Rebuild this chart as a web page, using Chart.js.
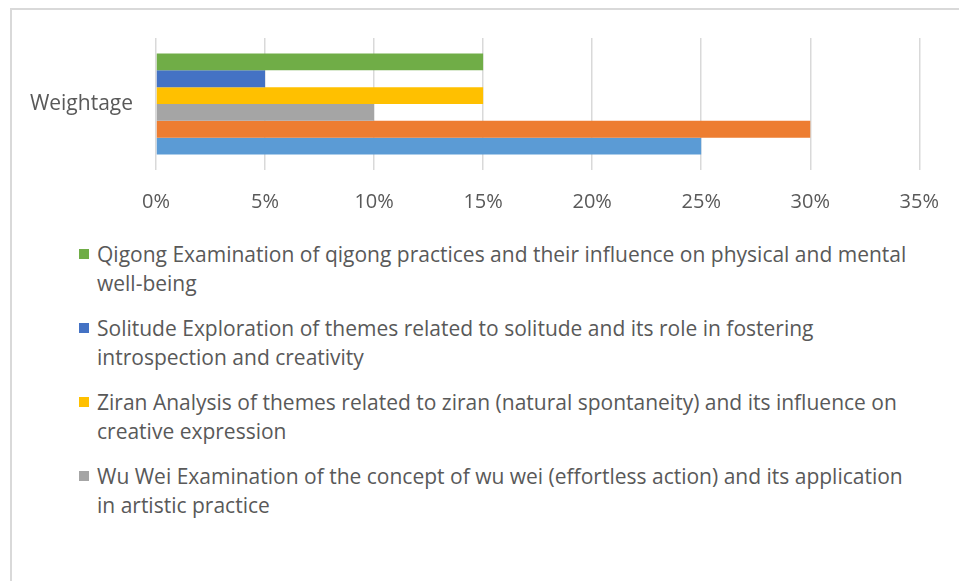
<!DOCTYPE html>
<html>
<head>
<meta charset="utf-8">
<script src="https://cdn.jsdelivr.net/npm/chart.js@4.4.1/dist/chart.umd.min.js"></script>
<style>
  body { margin: 0; background: #fff; font-family: "Open Sans", sans-serif; }
  #frame { position: absolute; left: 10px; top: 8px; width: 949px; height: 573px;
           border-left: 2px solid #d9d9d9; border-top: 2px solid #d9d9d9; }
  #weightChart { position: absolute; left: 0; top: 0; }
  #legend { position: absolute; left: 79px; top: 240px; width: 836px; color: #595959; font-size: 21px; }
  .item { display: flex; align-items: flex-start; margin-bottom: 16px; }
  .box { width: 10px; height: 10px; margin-top: 9px; margin-right: 8px; flex: none; }
  .text { line-height: 29px; }
</style>
</head>
<body>
<div id="frame"></div>
<canvas id="weightChart" width="959" height="230"></canvas>
<div id="legend"></div>
<script>
const categories = ['Weightage'];
// top bar first; the last two series are not named in the visible legend
const seriesNames = [
    'Qigong Examination of qigong practices and their influence on physical and mental well-being',
    'Solitude Exploration of themes related to solitude and its role in fostering introspection and creativity',
    'Ziran Analysis of themes related to ziran (natural spontaneity) and its influence on creative expression',
    'Wu Wei Examination of the concept of wu wei (effortless action) and its application in artistic practice',
    'Series 2',
    'Series 1'
];
const seriesValues = [15, 5, 15, 10, 30, 25];
const seriesColors = ['#70ad47', '#4472c4', '#ffc000', '#a5a5a5', '#ed7d31', '#5b9bd5'];
const xTickLabels = ['0%', '5%', '10%', '15%', '20%', '25%', '30%', '35%'];
const legendShown = 4;

const textColor = '#595959';
const gridColor = '#d9d9d9';
const fontFamily = '"Open Sans", sans-serif';

const ctx = document.getElementById('weightChart').getContext('2d');
const chart = new Chart(ctx, {
    type: 'bar',
    data: {
        labels: categories,
        datasets: seriesNames.map((name, i) => ({
            label: name,
            data: [seriesValues[i]],
            backgroundColor: seriesColors[i],
            barPercentage: 1,
            categoryPercentage: 0.765
        }))
    },
    options: {
        indexAxis: 'y',
        responsive: false,
        animation: false,
        layout: { padding: { top: 38, right: 38, bottom: 0, left: 0 } },
        plugins: {
            legend: { display: false },
            tooltip: { enabled: false }
        },
        scales: {
            x: {
                min: 0,
                max: 35,
                ticks: {
                    stepSize: 5,
                    padding: 20,
                    color: textColor,
                    font: { family: fontFamily, size: 20 },
                    callback: (v, i) => xTickLabels[i]
                },
                grid: { color: gridColor, lineWidth: 1.5, drawTicks: false },
                border: { display: false },
                afterFit: (axis) => { axis.height = 60; }
            },
            y: {
                ticks: {
                    padding: 23,
                    color: textColor,
                    font: { family: fontFamily, size: 21 }
                },
                grid: { display: false, drawTicks: false },
                border: { display: false },
                afterFit: (axis) => { axis.width = 156; }
            }
        }
    }
});

const legendEl = document.getElementById('legend');
chart.data.datasets.slice(0, legendShown).forEach(ds => {
    const item = document.createElement('div');
    item.className = 'item';
    const box = document.createElement('span');
    box.className = 'box';
    box.style.background = ds.backgroundColor;
    const text = document.createElement('span');
    text.className = 'text';
    text.textContent = ds.label;
    item.appendChild(box);
    item.appendChild(text);
    legendEl.appendChild(item);
});
</script>
</body>
</html>
